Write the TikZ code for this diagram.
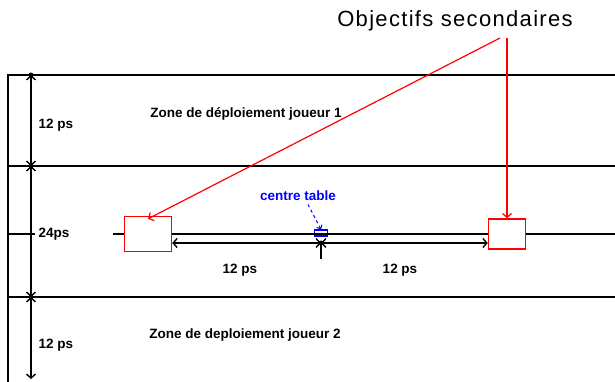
\documentclass[tikz,border=0pt]{standalone}
\usepackage{fontspec}
\setmainfont{Liberation Sans}
\usetikzlibrary{arrows.meta}
\usetikzlibrary{positioning}

\begin{document}
\begin{tikzpicture}[x=1pt,y=-1pt,
          trait/.style={line width=1.4pt},
          cote/.style={line width=1.4pt,{Straight Barb[length=4pt,width=9pt]}-{Straight Barb[length=4pt,width=9pt]}},
          objbox/.style={draw=red,line width=1.4pt,inner sep=0pt},
          txt/.style={font=\bfseries\fontsize{13.5}{14}\selectfont},
          point/.style={circle,fill=black,inner sep=0pt,minimum size=5pt}]
          \useasboundingbox (0,0) rectangle (615,381);
          % cadre et limites des zones
          \draw[trait] (8,390) -- (8,75) -- (620,75);
          \draw[trait] (8,166) -- (620,166);
          \draw[trait] (8,297) -- (620,297);
          % cotes verticales
          \coordinate (v0) at (31,75);
          \coordinate (v1) at (31,166);
          \coordinate (v2) at (31,297);
          \coordinate (v3) at (31,379);
          \draw[cote] (v1) -- (v0);
          \draw[cote] (v1) -- (v2);
          \draw[cote] (v2) -- (v3);
          \foreach \p in {v0,v1,v2} \node[point] at (\p) {};
          \node[txt,anchor=west] (h1) at (35,125) {12 ps};
          \node[txt,anchor=west] (h2) at (35,234) {24ps};
          \node[txt,anchor=west] (h3) at (35,345) {12 ps};
          \node[txt] (zone1) at (246,114) {Zone de déploiement joueur 1};
          \node[txt] (zone2) at (245,335) {Zone de deploiement joueur 2};
          % objectifs
          \node[objbox,minimum width=47pt,minimum height=35pt] (obj1) at (148,234) {};
          \node[objbox,minimum width=37pt,minimum height=30pt] (obj2) at (507,234) {};
          \node[draw=blue,line width=1.2pt,inner sep=0pt,minimum width=13pt,minimum height=6pt] (centre) at (321,233) {};
          \node[txt,text=blue] (ctlbl) at (298,196) {centre table};
          \draw[trait] (8,234) -- (h2.west);
          \draw[trait] (113,234) -- (obj1.west);
          \draw[trait] (obj1.east) -- (obj2.west);
          \draw[trait] (obj2.east) -- (620,234);
          % cotes horizontales
          \coordinate (c0) at (321,243);
          \draw[cote] (c0) -- (obj1.east |- c0);
          \draw[cote] (c0) -- (obj2.west |- c0);
          \draw[trait] (c0) -- (321,259);
          \node[point] at (c0) {};
          \node[txt] (d1) at (240,270) {12 ps};
          \node[txt] (d2) at (400,270) {12 ps};
          \draw[blue,dashed,line width=1pt,-{Straight Barb[length=3pt,width=6pt]}] (ctlbl.south) ++(10,0) -- (centre.north);
          % legende
          \node[font=\fontsize{22}{24}\selectfont\addfontfeature{LetterSpace=6}] (titre) at (455,21) {Objectifs secondaires};
          \coordinate (o1) at (500,38);
          \coordinate (o2) at (507,38);
          \draw[red,line width=1.2pt,-{Straight Barb[length=4pt,width=9pt]}] (o1) -- ([yshift=-3pt]obj1.north);
          \draw[red,line width=1.2pt,-{Straight Barb[length=4pt,width=9pt]}] (o2) -- (obj2.north);
        \end{tikzpicture}
\end{document}
